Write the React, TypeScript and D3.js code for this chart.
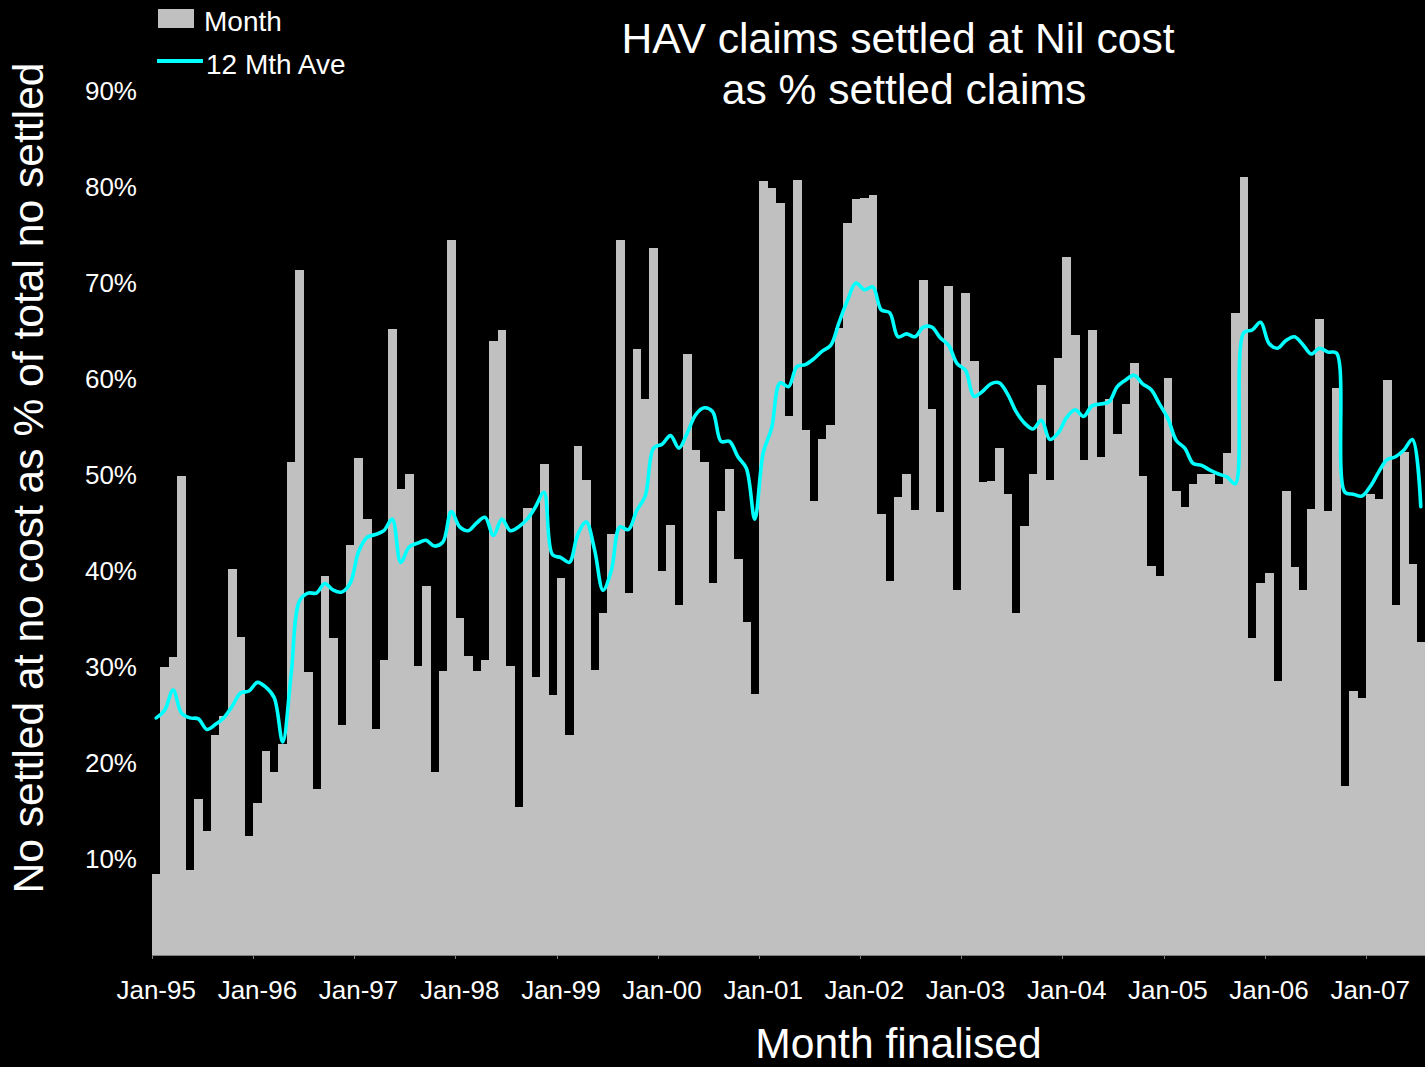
import React from "react";
import * as d3 from "d3";

const START_YEAR = 1995;
const MONTH_COUNT = 151;

const monthlyPct: number[] = [
  8.4, 30.0, 31.0, 49.9, 8.9, 16.3, 12.9, 22.9, 24.9, 40.2, 33.1, 12.4,
  15.8, 21.2, 19.1, 22.0, 51.4, 71.4, 29.5, 17.3, 39.5, 33.0, 24.0, 42.7,
  51.8, 45.4, 23.5, 30.7, 65.2, 48.5, 50.1, 30.1, 38.4, 19.1, 29.6, 74.5,
  35.1, 31.1, 29.6, 30.7, 64.0, 65.1, 30.1, 15.4, 46.6, 29.0, 51.1, 27.1,
  39.3, 22.9, 53.0, 49.5, 29.7, 35.6, 43.9, 74.5, 37.7, 63.1, 57.9, 73.6,
  40.0, 44.8, 36.5, 62.6, 52.6, 51.4, 38.8, 46.3, 50.6, 41.2, 34.7, 27.2,
  80.6, 79.9, 78.3, 56.1, 80.7, 54.7, 47.3, 53.8, 55.2, 65.3, 76.2, 78.8,
  78.9, 79.2, 45.9, 39.0, 47.7, 50.1, 46.4, 70.3, 56.9, 46.1, 69.7, 38.0,
  69.0, 61.9, 49.3, 49.4, 52.8, 48.0, 35.6, 44.7, 50.1, 59.4, 49.5, 62.2,
  72.7, 64.6, 51.6, 65.1, 51.9, 57.9, 54.3, 57.4, 61.7, 49.9, 40.5, 39.5,
  60.1, 48.3, 46.7, 49.1, 50.1, 50.1, 49.1, 52.3, 66.9, 81.0, 33.0, 38.8,
  39.8, 28.5, 48.3, 40.4, 38.0, 46.5, 66.2, 46.3, 59.1, 17.6, 27.5, 26.8,
  48.0, 47.5, 59.9, 36.5, 52.4, 40.7, 32.6,
];

const avg12Pct: number[] = [
  24.7, 25.5, 27.6, 25.2, 24.7, 24.6, 23.5, 24.0, 24.7, 25.9, 27.3, 27.5,
  28.4, 27.9, 26.8, 22.2, 29.2, 36.9, 37.7, 37.7, 38.7, 38.0, 37.8, 38.7,
  42.0, 43.5, 43.8, 44.2, 45.4, 40.9, 42.5, 42.9, 43.2, 42.6, 43.0, 46.2,
  44.6, 44.2, 45.0, 45.6, 43.7, 45.4, 44.2, 44.6, 45.4, 46.7, 48.2, 41.7,
  41.4, 40.9, 43.8, 45.1, 42.2, 38.0, 40.1, 44.6, 44.3, 46.3, 47.8, 52.8,
  53.2, 54.1, 52.8, 54.4, 56.3, 57.0, 56.6, 53.5, 53.5, 51.9, 50.7, 45.4,
  52.3, 54.9, 59.6, 59.2, 61.3, 61.5, 62.1, 62.9, 63.5, 65.9, 68.2, 70.0,
  69.3, 69.6, 67.2, 66.9, 64.4, 64.7, 64.4, 65.4, 65.4, 64.3, 63.5, 61.6,
  60.9, 58.2, 58.7, 59.5, 59.6, 58.4, 56.6, 55.4, 54.8, 55.7, 53.7, 54.4,
  56.0, 56.8, 56.1, 57.2, 57.4, 57.6, 59.2, 59.9, 60.4, 59.5, 58.9, 57.4,
  55.9, 53.6, 52.8, 51.2, 51.0, 50.5, 50.1, 49.8, 49.1, 64.8, 65.1, 65.9,
  63.7, 63.2, 64.0, 64.4, 63.6, 62.6, 63.2, 62.8, 62.7, 48.2, 48.0, 47.8,
  48.8, 50.3, 51.6, 51.9, 52.6, 53.7, 46.7,
];

const yearTickLabels: string[] = [
  "Jan-95", "Jan-96", "Jan-97", "Jan-98", "Jan-99", "Jan-00", "Jan-01",
  "Jan-02", "Jan-03", "Jan-04", "Jan-05", "Jan-06", "Jan-07",
];

const yTickValues: number[] = [10, 20, 30, 40, 50, 60, 70, 80, 90];

const titleLines: string[] = ["HAV claims settled at Nil cost", "as % settled claims"];
const yAxisTitle = "No settled at no cost as % of total no settled";
const xAxisTitle = "Month finalised";
const legendItems: string[] = ["Month", "12 Mth Ave"];

const months: Date[] = d3.range(MONTH_COUNT).map((i) => new Date(START_YEAR, i, 1));

const W = 1425;
const H = 1067;
const FONT = "'Liberation Sans', Arial, Helvetica, sans-serif";

export default function App() {
  const x = d3
    .scaleBand<number>()
    .domain(d3.range(MONTH_COUNT))
    .range([152, 1425])
    .paddingInner(0)
    .paddingOuter(0);
  const y = d3.scaleLinear().domain([0, 90]).range([955, 91]);
  const bw = x.bandwidth();

  const line = d3
    .line<number>()
    .x((_, i) => (x(i) as number) + bw / 2)
    .y((d) => y(d))
    .curve(d3.curveCatmullRom.alpha(0.5));

  const janIdx = months
    .map((m, i) => (m.getMonth() === 0 ? i : -1))
    .filter((i) => i >= 0);

  return (
    <svg
      width={W}
      height={H}
      style={{ position: "absolute", left: 0, top: 0, display: "block" }}
      fontFamily={FONT}
    >
      <rect x={0} y={0} width={W} height={H} fill="#000" />

      {/* bars */}
      <g shapeRendering="crispEdges">
        {monthlyPct.map((v, i) => (
          <rect
            key={i}
            x={x(i)}
            y={y(v)}
            width={bw + 0.4}
            height={y(0) - y(v)}
            fill="#C0C0C0"
          />
        ))}
      </g>

      {/* x axis line and ticks */}
      <line x1={152} x2={1425} y1={955.5} y2={955.5} stroke="#808080" strokeWidth={1} />
      {janIdx.map((i) => (
        <line
          key={"t" + i}
          x1={Math.round(x(i) as number) + 0.5}
          x2={Math.round(x(i) as number) + 0.5}
          y1={955}
          y2={959}
          stroke="#808080"
          strokeWidth={1}
        />
      ))}

      {/* 12 month average */}
      <path
        d={line(avg12Pct) || ""}
        fill="none"
        stroke="#00FFFF"
        strokeWidth={3.6}
        strokeLinejoin="round"
        strokeLinecap="round"
      />

      {/* x tick labels */}
      {janIdx.map((i, k) => (
        <text
          key={"xl" + i}
          x={(x(i) as number) + bw / 2}
          y={999}
          fill="#fff"
          fontSize={26}
          textAnchor="middle"
        >
          {yearTickLabels[k]}
        </text>
      ))}

      {/* y tick labels */}
      {yTickValues.map((v) => (
        <text
          key={"yl" + v}
          x={137}
          y={y(v)}
          dy="0.36em"
          fill="#fff"
          fontSize={26}
          textAnchor="end"
        >
          {v + "%"}
        </text>
      ))}

      {/* title */}
      <text x={898} y={53} fill="#fff" fontSize={42.6} textAnchor="middle">
        {titleLines[0]}
      </text>
      <text x={904} y={104} fill="#fff" fontSize={42.6} textAnchor="middle">
        {titleLines[1]}
      </text>

      {/* axis titles */}
      <text
        transform="translate(43,478) rotate(-90)"
        fill="#fff"
        fontSize={42.6}
        textAnchor="middle"
      >
        {yAxisTitle}
      </text>
      <text x={898.5} y={1058} fill="#fff" fontSize={42.6} textAnchor="middle">
        {xAxisTitle}
      </text>

      {/* legend */}
      <rect x={158} y={9} width={36} height={19} fill="#C0C0C0" />
      <text x={204} y={30.5} fill="#fff" fontSize={28}>
        {legendItems[0]}
      </text>
      <line x1={157} x2={203} y1={61} y2={61} stroke="#00FFFF" strokeWidth={4} />
      <text x={206} y={74} fill="#fff" fontSize={28}>
        {legendItems[1]}
      </text>
    </svg>
  );
}
